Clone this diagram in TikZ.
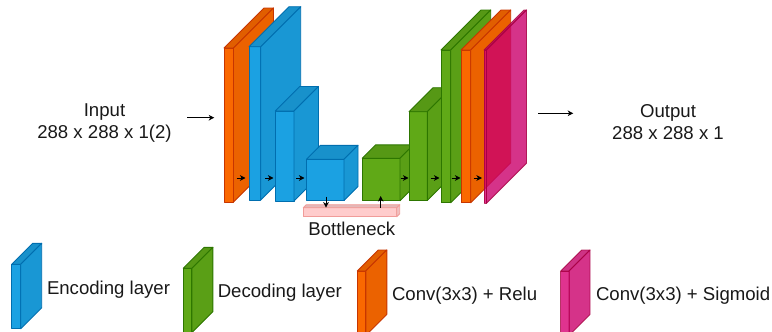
\documentclass[tikz,border=0pt]{standalone}
\usepackage{fontspec}
\setmainfont{Liberation Sans}
\usetikzlibrary{arrows.meta}
\definecolor{orF}{HTML}{FA6800}\definecolor{orS}{HTML}{C73500}
\definecolor{blF}{HTML}{1BA1E2}\definecolor{blS}{HTML}{006EAF}
\definecolor{grF}{HTML}{60A917}\definecolor{grS}{HTML}{2D7600}
\definecolor{pkF}{HTML}{D80073}\definecolor{pkS}{HTML}{A50040}
\definecolor{bnF}{HTML}{FFCCCC}\definecolor{bnS}{HTML}{F19C99}
\tikzset{
  face/.style={rectangle, anchor=north west, inner sep=0pt, outer sep=0pt, line width=0.9pt, line join=round},
  facepath/.style={line width=0.9pt, line join=round},
  arr/.style={-{Stealth[length=5.5pt,width=5.5pt,inset=1.5pt]}, line width=1pt, black},
  lbl/.style={inner sep=0pt, font=\fontsize{18.6}{21.8}\selectfont, text=black!90},
}
% name, x, ytop, width, height, depth, fill, stroke, opacity
\newcommand{\layerbox}[9]{%
  \node[face, draw=#8, fill=#7, fill opacity=#9, draw opacity=#9,
        minimum width=#4pt, minimum height=#5pt] (#1) at (#2,#3) {};
  \filldraw[facepath, draw=#8, fill=#7!90!black, fill opacity=#9, draw opacity=#9]
    (#1.north west) -- ++(#6pt,#6pt) -- ++(#4pt,0pt) -- (#1.north east) -- cycle;
  \filldraw[facepath, draw=#8, fill=#7!94!black, fill opacity=#9, draw opacity=#9]
    (#1.north east) -- ++(#6pt,#6pt) -- ++(0pt,-#5pt) -- (#1.south east) -- cycle;
}
\begin{document}
\begin{tikzpicture}[x=1pt,y=-1pt]
\useasboundingbox (0,0) rectangle (772,332);

% ---- network layers ----
\layerbox{o1}{224}{48}{9.5}{154}{40}{orF}{orS}{1}
\layerbox{b1}{249}{46.7}{11.7}{153.3}{40}{blF}{blS}{1}
\layerbox{b2}{275.3}{111}{18.7}{90}{24.5}{blF}{blS}{1}
\layerbox{b3}{306.5}{159.3}{37.5}{41.2}{14}{blF}{blS}{1}
\layerbox{g1}{362.3}{158.3}{37.7}{42.4}{13.5}{grF}{grS}{1}
\layerbox{g2}{409}{111.7}{18.3}{88.8}{24}{grF}{grS}{1}
\layerbox{g3}{441}{50}{9.7}{152.7}{40}{grF}{grS}{1}
\layerbox{o2}{461}{50}{9.7}{152.7}{40}{orF}{orS}{1}
\layerbox{p1}{484}{50}{2.5}{153.3}{40}{pkF}{pkS}{0.8}

% ---- bottleneck bar ----
\layerbox{bn}{303.3}{207.7}{93.4}{9}{3}{bnF}{bnS}{1}
\node[lbl, anchor=base] (bnt) at (351.8,235.5) {Bottleneck};

% ---- small connectors ----
\coordinate (s1) at (236.7,178); \coordinate (e1) at (245.5,178);
\coordinate (s2) at (265,178);   \coordinate (e2) at (273.5,178);
\coordinate (s3) at (296,178);   \coordinate (e3) at (304.5,178);
\coordinate (s4) at (400.5,178); \coordinate (e4) at (408.5,178);
\coordinate (s5) at (430.7,178); \coordinate (e5) at (439.5,178);
\coordinate (s6) at (451.7,178); \coordinate (e6) at (460.5,178);
\coordinate (s7) at (473.5,178); \coordinate (e7) at (482,178);
\foreach \i in {1,...,7} {\draw[arr] (s\i) -- (e\i);}
\coordinate (dn) at (326,196.7);
\draw[arr] (dn) -- (dn |- bn.north);
\coordinate (up) at (380.7,196);
\draw[arr] (up |- bn.north) -- (up);

% ---- input / output ----
\node[lbl, anchor=base, align=center] (in) at (104.5,138.3) {Input\\288 x 288 x 1(2)};
\coordinate (ina) at (187.3,117.7); \coordinate (inb) at (214.3,117.7);
\draw[arr] (ina) -- (inb);
\node[lbl, anchor=base, align=center] (out) at (668,139.6) {Output\\288 x 288 x 1};
\coordinate (outa) at (538.3,113.3); \coordinate (outb) at (573.3,113.3);
\draw[arr] (outa) -- (outb);

% ---- legend ----
\layerbox{lb}{11.7}{264.3}{9}{64.4}{21}{blF}{blS}{1}
\node[lbl, anchor=base west] (lbt) at (46.8,294.3) {Encoding layer};
\layerbox{lg}{183.3}{268.3}{8.6}{64.4}{21}{grF}{grS}{1}
\node[lbl, anchor=base west] (lgt) at (217.6,297.3) {Decoding layer};
\layerbox{lo}{357.3}{271}{8.5}{64.4}{21}{orF}{orS}{1}
\node[lbl, anchor=base west] (lot) at (391.8,300) {Conv(3x3) + Relu};
\layerbox{lp}{560.7}{271}{8.3}{64.4}{21}{pkF}{pkS}{0.8}
\node[lbl, anchor=base west] (lpt) at (595.8,300) {Conv(3x3) + Sigmoid};
\end{tikzpicture}
\end{document}
